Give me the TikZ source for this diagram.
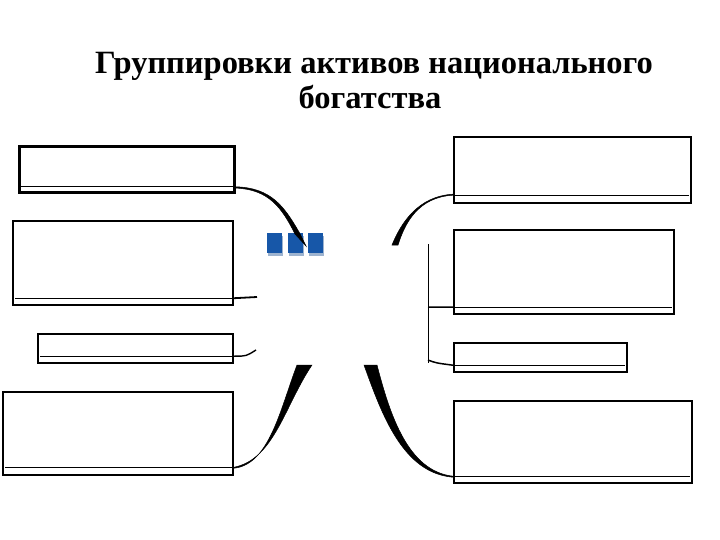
\documentclass[tikz,border=0pt]{standalone}
\usepackage{fontspec}
\setmainfont{Liberation Serif}
\usetikzlibrary{calc}
\definecolor{sqblue}{HTML}{1757A8}
\definecolor{sqshadow}{HTML}{9DB3CF}
\tikzset{
  box/.style={draw=black, line width=2.2pt, fill=white, inner sep=0pt, anchor=north west},
  thickbox/.style={box, line width=2.8pt},
  inner/.style={draw=black, line width=1.1pt},
  conn/.style={draw=black, line width=1.8pt},
  wedge/.style={fill=black, draw=black, line width=0.5pt},
  sq/.style={fill=sqblue, draw=none},
  sqsh/.style={fill=sqshadow, draw=none},
  titletext/.style={font=\fontsize{32.5}{38}\selectfont\bfseries, inner sep=0pt, anchor=base}
}
\begin{document}
\begin{tikzpicture}[x=1pt,y=-1pt]
\useasboundingbox (0,0) rectangle (720,540);

% title
\node[titletext] (t1) at (374,74) {Группировки активов национального};
\node[titletext] (t2) at (370,109) {богатства};

% left boxes
\node[thickbox, minimum width=215pt, minimum height=46pt] (L1) at (18,145) {};
\node[box, minimum width=220pt, minimum height=84pt] (L2) at (12,220) {};
\node[box, minimum width=195pt, minimum height=29pt] (L3) at (37,333) {};
\node[box, minimum width=230pt, minimum height=83pt] (L4) at (2,391) {};

% right boxes
\node[box, minimum width=237pt, minimum height=66pt] (R1) at (453,136) {};
\node[box, minimum width=220pt, minimum height=84pt] (R2) at (453,229) {};
\node[box, minimum width=173pt, minimum height=29pt] (R3) at (453,342) {};
\node[box, minimum width=238pt, minimum height=82pt] (R4) at (453,400) {};

% inner lines
\draw[inner] ($(L1.south west)+(3,-7)$) coordinate (L1a) -- ($(L1.south east)+(0,-7)$) coordinate (L1b);
\draw[inner] ($(L2.south west)+(3,-8)$) -- ($(L2.south east)+(0,-8)$) coordinate (L2b);
\draw[inner] ($(L3.south west)+(3,-8)$) -- ($(L3.south east)+(0,-8)$) coordinate (L3b);
\draw[inner] ($(L4.south west)+(3,-9)$) -- ($(L4.south east)+(0,-9)$) coordinate (L4b);
\draw[inner] ($(R1.south west)+(0,-9)$) coordinate (R1a) -- ($(R1.south east)+(-3,-9)$);
\draw[inner] ($(R2.south west)+(0,-8)$) coordinate (R2a) -- ($(R2.south east)+(-3,-8)$);
\draw[inner] ($(R3.south west)+(0,-8)$) coordinate (R3a) -- ($(R3.south east)+(-3,-8)$);
\draw[inner] ($(R4.south west)+(0,-8)$) coordinate (R4a) -- ($(R4.south east)+(-3,-8)$);

% blue squares
\foreach \i/\x in {1/267,2/287.5,3/308} {
  \fill[sqsh] (\x+1,236) rectangle (\x+16,256);
  \fill[sq] (\x,233) rectangle (\x+15,253);
}

% connector free ends
\coordinate (e1) at (306,246);
\coordinate (e2) at (257,297);
\coordinate (e3) at (256,350);
\coordinate (e4) at (305,365);
\coordinate (f1) at (395,245);
\coordinate (f4) at (370,365);
\coordinate (vt) at (428,244);
\coordinate (vb) at (428,363);

% left connectors
\fill[wedge] (L1b) .. controls ($(L1b)+(35,1)$) and ($(e1)+(-22,-40)$) .. ($(e1)+(-7,-14)$)
   -- (e1) -- ($(e1)+(-11,-12)$)
   .. controls ($(e1)+(-24,-38)$) and ($(L1b)+(33,2.5)$) .. ($(L1b)+(0,1.3)$) -- cycle;
\draw[conn] (L2b) -- (e2);
\draw[conn, line width=1.4pt] (L3b) .. controls ($(L3b)+(12,0)$) .. (e3);
\fill[wedge] (L4b) .. controls ($(L4b)+(40,-8)$) and ($(e4)+(-20,40)$) .. ($(e4)+(7,0)$)
   -- ($(e4)+(-8,0)$) .. controls ($(e4)+(-25,45)$) and ($(L4b)+(35,-3)$) .. ($(L4b)+(0,1)$) -- cycle;

% right connectors
\fill[wedge] (R1a) .. controls ($(R1a)+(-35,2)$) and ($(f1)+(10,-22)$) .. ($(f1)+(3,0)$)
   -- ($(f1)+(-3,0)$) .. controls ($(f1)+(6,-22)$) and ($(R1a)+(-35,1)$) .. ($(R1a)+(0,-1)$) -- cycle;
\draw[black, line width=1pt] (vt) -- (vb);
\draw[conn, line width=1.5pt] ($(vt)+(0,63)$) -- (R2a);
\draw[conn, line width=1.5pt] ($(vb)+(0,-3)$) .. controls ($(vb)+(8,0)$) .. (R3a);
\fill[wedge] ($(f4)+(-6,0)$) -- ($(f4)+(7,0)$) .. controls ($(f4)+(20,50)$) and ($(R4a)+(-45,-5)$) .. (R4a)
   -- ($(R4a)+(0,1)$) .. controls ($(R4a)+(-50,-3)$) and ($(f4)+(12,50)$) .. ($(f4)+(-6,0)$) -- cycle;
\end{tikzpicture}
\end{document}
